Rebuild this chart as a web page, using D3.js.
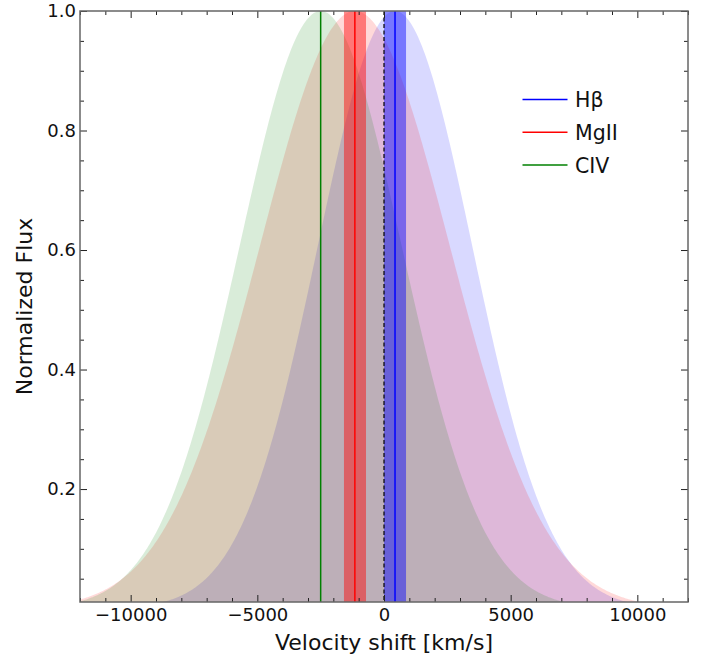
<!DOCTYPE html>
<html><head><meta charset="utf-8">
<script src="https://cdn.jsdelivr.net/npm/d3@7"></script>
<style>body{margin:0;background:#fff;} text{font-family:"DejaVu Sans",sans-serif;}</style>
</head><body><svg id="c" width="708" height="661"></svg>
<script>
const lines = ["Hβ", "MgII", "CIV"];
const colors = ["blue", "red", "green"];
const centers = [435, -1150, -2500];      // km/s, line centroid shift
const sigmas = [3050, 3750, 3200];        // km/s, Gaussian width
const bandLo = [0, -1580, -2500];
const bandHi = [870, -710, -2500];
const xTicks = [-10000, -5000, 0, 5000, 10000];
const yTicks = [0.2, 0.4, 0.6, 0.8, 1.0];

const svg = d3.select("#c");
const L = 80, R = 688, T = 11, B = 602;
const x = d3.scaleLinear().domain([-12000, 12000]).range([L, R]);
const y = d3.scaleLinear().domain([0.011, 1.0]).range([B, T]);

svg.append("clipPath").attr("id","clp").append("rect")
  .attr("x", L).attr("y", T).attr("width", R-L).attr("height", B-T);
const g = svg.append("g").attr("clip-path","url(#clp)");

const vs = d3.range(-12000, 12001, 50);
const area = d3.area().x(d => x(d[0])).y0(y(0)).y1(d => y(d[1]));
[0,1,2].forEach(i => {
  const pts = vs.map(v => [v, Math.exp(-Math.pow(v - centers[i], 2) / (2 * sigmas[i] * sigmas[i]))]);
  g.append("path").attr("d", area(pts)).attr("fill", colors[i]).attr("fill-opacity", 0.15);
});
[0,1,2].forEach(i => {
  g.append("rect").attr("x", x(bandLo[i])).attr("width", x(bandHi[i]) - x(bandLo[i]))
    .attr("y", T).attr("height", B - T).attr("fill", colors[i]).attr("fill-opacity", 0.45);
});
[0,1,2].forEach(i => {
  g.append("line").attr("x1", x(centers[i])).attr("x2", x(centers[i]))
    .attr("y1", T).attr("y2", B).attr("stroke", colors[i]).attr("stroke-width", 1.5);
});
g.append("line").attr("x1", x(0)).attr("x2", x(0)).attr("y1", T).attr("y2", B)
  .attr("stroke", "black").attr("stroke-width", 1.2).attr("stroke-dasharray", "4,2.5");

function styleAxis(sel){
  sel.select(".domain").remove();
  sel.selectAll(".tick line").attr("stroke","#222").attr("stroke-width",1);
  sel.selectAll("text").attr("font-size", 18).attr("fill","#111");
}
const fmt = d => d3.format("")(d).replace("-", "\u2212");
const xMinor = d3.range(-12000, 12001, 1000).filter(v => v % 5000 !== 0);
const yMinor = d3.range(0.05, 1.0001, 0.05).filter(v => Math.abs(v*5 - Math.round(v*5)) > 1e-6);

svg.append("g").attr("transform", `translate(0,${B})`)
  .call(d3.axisBottom(x).tickValues(xTicks).tickSize(-7).tickPadding(6).tickFormat(fmt)).call(styleAxis);
svg.append("g").attr("transform", `translate(0,${B})`)
  .call(d3.axisBottom(x).tickValues(xMinor).tickSize(-4).tickFormat("")).call(styleAxis);
svg.append("g").attr("transform", `translate(0,${T})`)
  .call(d3.axisTop(x).tickValues(xTicks).tickSize(-7).tickFormat("")).call(styleAxis);
svg.append("g").attr("transform", `translate(0,${T})`)
  .call(d3.axisTop(x).tickValues(xMinor).tickSize(-4).tickFormat("")).call(styleAxis);
svg.append("g").attr("transform", `translate(${L},0)`)
  .call(d3.axisLeft(y).tickValues(yTicks).tickSize(-7).tickPadding(4).tickFormat(d3.format(".1f"))).call(styleAxis);
svg.append("g").attr("transform", `translate(${L},0)`)
  .call(d3.axisLeft(y).tickValues(yMinor).tickSize(-4).tickFormat("")).call(styleAxis);
svg.append("g").attr("transform", `translate(${R},0)`)
  .call(d3.axisRight(y).tickValues(yTicks).tickSize(-7).tickFormat("")).call(styleAxis);
svg.append("g").attr("transform", `translate(${R},0)`)
  .call(d3.axisRight(y).tickValues(yMinor).tickSize(-4).tickFormat("")).call(styleAxis);

svg.append("rect").attr("x", L).attr("y", T).attr("width", R-L).attr("height", B-T)
  .attr("fill","none").attr("stroke","#666").attr("stroke-width",1.5);

svg.append("text").attr("x", (L+R)/2).attr("y", 650).attr("text-anchor","middle")
  .attr("font-size", 22).attr("fill","#111").text("Velocity shift [km/s]");
svg.append("text").attr("transform", `translate(32,${(T+B)/2}) rotate(-90)`).attr("text-anchor","middle")
  .attr("font-size", 22).attr("fill","#111").text("Normalized Flux");

const leg = svg.append("g");
lines.forEach((name, i) => {
  const yy = 99.5 + i * 32.8;
  leg.append("line").attr("x1", 522.5).attr("x2", 567.5).attr("y1", yy).attr("y2", yy)
    .attr("stroke", colors[i]).attr("stroke-width", 1.5);
  leg.append("text").attr("x", 575).attr("y", yy + 7.5).attr("font-size", 20.5).attr("fill","#111").text(name);
});
</script></body></html>
